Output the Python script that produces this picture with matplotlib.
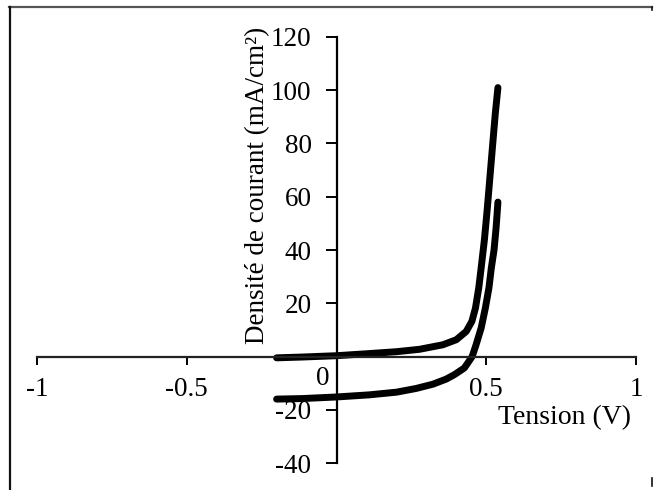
import matplotlib
matplotlib.use("Agg")
import matplotlib.pyplot as plt
from matplotlib.lines import Line2D

plt.rcParams['font.family'] = ['Liberation Serif', 'DejaVu Serif']

# dark curve (upper) and illuminated curve (lower)
v_dark = [-0.20, -0.114, 0.0, 0.11, 0.20, 0.277, 0.355, 0.40, 0.433, 0.452,
          0.464, 0.475, 0.483, 0.494, 0.503, 0.512, 0.521, 0.530, 0.539]
j_dark = [-0.5, -0.2, 0.3, 1.1, 1.8, 2.7, 4.4, 6.3, 9.4, 13.2,
          18.2, 25.8, 33.3, 44, 55, 67, 79, 91, 101]

v_light = [-0.20, -0.114, 0.0, 0.11, 0.20, 0.266, 0.322, 0.366, 0.394, 0.427,
           0.453, 0.466, 0.483, 0.497, 0.509, 0.517, 0.526, 0.533, 0.539]
j_light = [-16, -15.8, -15.2, -14.4, -13.4, -12, -10.4, -8.5, -6.8, -4.3,
           0, 4.4, 10.7, 18.2, 25.8, 33.3, 40, 48.5, 58]

xticks = [-1, -0.5, 0.5, 1]
xticklabels = ['-1', '-0.5', '0.5', '1']
yticks = [-40, -20, 20, 40, 60, 80, 100, 120]
yticklabels = ['-40', '-20', '20', '40', '60', '80', '100', '120']

W, H = 665, 490
fig = plt.figure(figsize=(6.65, 4.9), dpi=100)
ax = fig.add_axes([37 / W, 1 - 463 / H, 599 / W, 426 / H])
ax.set_xlim(-1, 1)
ax.set_ylim(-40, 120)
ax.patch.set_visible(False)

ax.plot(v_dark, j_dark, color='black', lw=5, solid_capstyle='round', solid_joinstyle='round')
ax.plot(v_light, j_light, color='black', lw=5, solid_capstyle='round', solid_joinstyle='round')

for s in ['top', 'right']:
    ax.spines[s].set_visible(False)
ax.spines['left'].set_position(('data', 0))
ax.spines['bottom'].set_position(('data', 0))
ax.spines['left'].set_linewidth(1.6)
ax.spines['bottom'].set_linewidth(1.6)
ax.spines['bottom'].set_color('#222222')

ax.set_xticks(xticks)
ax.set_xticklabels(xticklabels)
ax.set_yticks(yticks)
ax.set_yticklabels(yticklabels)
ax.tick_params(axis='x', direction='out', length=6, width=1.4, pad=9, labelsize=19.5)
ax.tick_params(axis='y', direction='out', length=8, width=1.4, pad=10, labelsize=19.5)

# "0" label placed left of the vertical axis
ax.text(-0.045, -3.5, '0', fontsize=19.5, ha='center', va='top')

fig.text(258 / W, 1 - 185 / H, 'Densité de courant (mA/cm²)', rotation=90,
         fontsize=19.5, ha='center', va='center')
fig.text(565 / W, 1 - 418 / H, 'Tension (V)', fontsize=20, ha='center', va='center')

# scanned frame: top and left edges, small marks on the right
fig.add_artist(Line2D([9 / W, 652 / W], [1 - 7 / H, 1 - 7 / H], color='#555555', lw=1.6))
fig.add_artist(Line2D([9.5 / W, 9.5 / W], [1 - 7 / H, 0], color='#111111', lw=1.6))
fig.add_artist(Line2D([652 / W, 652 / W], [1 - 7 / H, 1 - 10 / H], color='#111111', lw=1.2))
fig.add_artist(Line2D([652 / W, 652 / W], [1 - 478 / H, 1 - 486 / H], color='#111111', lw=1.2))

fig.savefig('out.png', dpi=100)
